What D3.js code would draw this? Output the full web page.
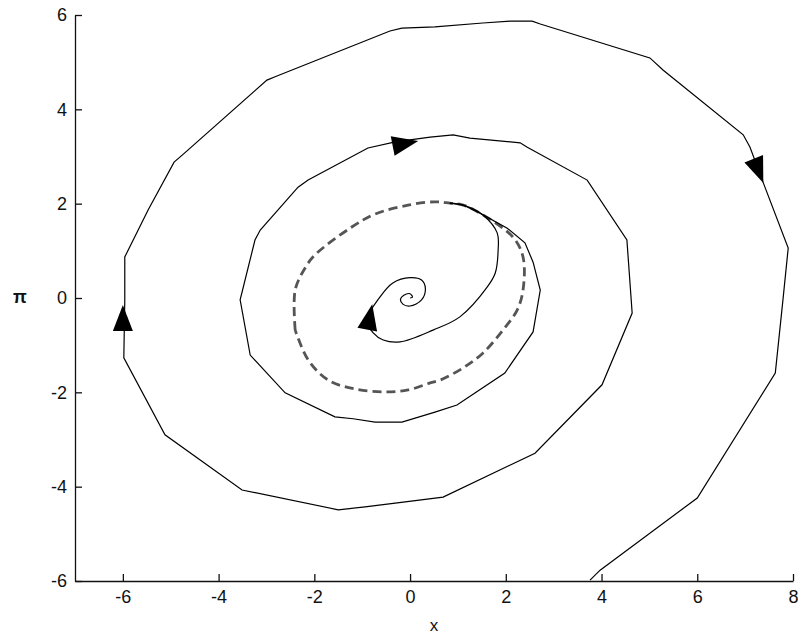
<!DOCTYPE html>
<meta charset="utf-8">
<script src="https://d3js.org/d3.v7.min.js"></script>
<style>
  body { margin: 0; background: #fff; }
</style>

<div id="my_dataviz"></div>

<script>

// trajectory leaving the cycle (x, pi)
var outwardPath = [
  [0.83, 2.01], [1.11, 1.97], [1.46, 1.80], [2.03, 1.48], [2.40, 1.17], [2.57, 0.76],
  [2.72, 0.17], [2.57, -0.72], [1.98, -1.59], [0.98, -2.27], [0.52, -2.42], [-0.17, -2.63],
  [-0.73, -2.63], [-1.19, -2.56], [-1.57, -2.52], [-2.61, -2.01], [-3.34, -1.21], [-3.55, -0.04],
  [-3.24, 1.23], [-3.13, 1.44], [-2.34, 2.35], [-2.13, 2.50], [-0.88, 3.18], [-0.31, 3.31],
  [0.42, 3.41], [0.90, 3.46], [1.25, 3.39], [2.30, 3.29], [2.44, 3.20], [3.70, 2.50],
  [4.53, 1.23], [4.64, -0.32], [4.01, -1.84], [2.61, -3.29], [0.69, -4.22], [-0.31, -4.35],
  [-0.94, -4.43], [-1.50, -4.49], [-3.51, -4.07], [-5.12, -2.90], [-5.98, -1.27], [-5.96, -0.04],
  [-5.96, 0.87], [-5.47, 1.87], [-4.93, 2.88], [-4.76, 3.03], [-2.99, 4.62], [-2.82, 4.69],
  [-0.42, 5.66], [-0.17, 5.72], [0.52, 5.75], [1.52, 5.83], [2.09, 5.87], [2.55, 5.87],
  [2.72, 5.81], [5.01, 5.09], [5.29, 4.83], [6.96, 3.46], [7.10, 3.20], [7.38, 2.44],
  [7.90, 1.06], [7.79, -0.04], [7.63, -1.59], [6.00, -4.24], [3.97, -5.77], [3.76, -5.98]
];

// trajectory falling into the origin
var inwardPath = [
  [0.83, 2.01], [1.11, 1.97], [1.52, 1.76], [1.82, 1.38], [1.84, 1.02], [1.78, 0.53],
  [1.61, 0.23], [1.04, -0.40], [0.48, -0.68], [-0.21, -0.93], [-0.56, -0.89], [-0.77, -0.74],
  [-0.90, -0.47], [-0.63, 0.02], [-0.36, 0.32], [0.00, 0.43], [0.24, 0.38], [0.32, 0.20],
  [0.24, -0.04], [0.00, -0.17], [-0.15, -0.13], [-0.20, -0.03], [-0.13, 0.06], [0.00, 0.09],
  [0.05, 0.02], [0.00, 0.00]
];

// unstable cycle (dashed)
var cyclePath = [
  [-2.40, -0.68], [-2.40, 0.17], [-2.19, 0.64], [-1.99, 0.91], [-1.21, 1.51], [-0.73, 1.78],
  [-0.04, 1.97], [0.52, 2.04], [0.83, 2.01], [1.11, 1.97], [1.46, 1.80], [2.15, 1.29],
  [2.36, 0.87], [2.36, 0.17], [2.24, -0.25], [1.94, -0.68], [1.52, -1.17], [1.11, -1.48],
  [0.63, -1.74], [0.42, -1.80], [-0.04, -1.95], [-0.52, -1.99], [-1.15, -1.93], [-1.71, -1.74],
  [-2.13, -1.31], [-2.40, -0.68]
];

// arrow heads: tip point and a point behind it on the curve
var arrowTips  = [[-6.00, -0.15], [0.17, 3.33], [7.38, 2.44], [-0.79, -0.13]];
var arrowBases = [[-6.00, -0.80], [-0.38, 3.22], [7.15, 3.03], [-0.90, -0.70]];

var xTicks = [-6, -4, -2, 0, 2, 4, 6, 8];
var yTicks = [-6, -4, -2, 0, 2, 4, 6];

//margin
var margin = {top: 15, right: 5, bottom: 55, left: 75},
    width = 798 - margin.left - margin.right,
    height = 636 - margin.top - margin.bottom;

var svg = d3.select("#my_dataviz")
  .append("svg")
    .attr("width", 798)
    .attr("height", 636)
    .style("display", "block")
  .append("g")
    .attr("transform", "translate(" + margin.left + "," + margin.top + ")");

var x = d3.scaleLinear().domain([-7, 8]).range([0, width]);
var y = d3.scaleLinear().domain([-6, 6]).range([height, 0]);

var font = "'Liberation Sans', Arial, sans-serif";
var plain = function(d) { return String(d); };   // keep the ascii minus

// axes, ticks pointing inward
var xAxis = svg.append("g")
  .attr("transform", "translate(0," + height + ")")
  .call(d3.axisBottom(x).tickValues(xTicks).tickFormat(plain)
    .tickSizeInner(-7).tickSizeOuter(0).tickPadding(9));
var yAxis = svg.append("g")
  .call(d3.axisLeft(y).tickValues(yTicks).tickFormat(plain)
    .tickSizeInner(-7).tickSizeOuter(0).tickPadding(8));

[xAxis, yAxis].forEach(function(a) {
  a.attr("font-family", font).attr("font-size", 18);
  a.selectAll("text").attr("fill", "#111");
  a.selectAll("line, path").attr("stroke", "#111").attr("stroke-width", 1.3);
});

// axis labels
svg.append("text")
  .attr("x", x(0.5))
  .attr("y", height + 50)
  .attr("text-anchor", "middle")
  .attr("font-family", font)
  .attr("font-size", 17)
  .attr("fill", "#111")
  .text("x");
svg.append("text")
  .attr("x", -55)
  .attr("y", y(0) + 5)
  .attr("text-anchor", "middle")
  .attr("font-family", font)
  .attr("font-size", 18)
  .attr("font-weight", "bold")
  .attr("fill", "#111")
  .text("π");

var line = d3.line()
  .x(function(d) { return x(d[0]); })
  .y(function(d) { return y(d[1]); });

var smooth = d3.line()
  .x(function(d) { return x(d[0]); })
  .y(function(d) { return y(d[1]); })
  .curve(d3.curveCatmullRom);

// dashed cycle
svg.append("path")
  .datum(cyclePath)
  .attr("fill", "none")
  .attr("stroke", "#555")
  .attr("stroke-width", 2.8)
  .attr("stroke-dasharray", "9,5")
  .attr("d", smooth);

// trajectories
svg.append("path")
  .datum(outwardPath)
  .attr("fill", "none")
  .attr("stroke", "#000")
  .attr("stroke-width", 1.2)
  .attr("d", line);

svg.append("path")
  .datum(inwardPath)
  .attr("fill", "none")
  .attr("stroke", "#000")
  .attr("stroke-width", 1.2)
  .attr("d", smooth);

// arrow heads
var headLen = 26, headHalf = 10;
svg.selectAll(".arrow")
  .data(arrowTips)
  .enter().append("path")
    .attr("class", "arrow")
    .attr("fill", "#000")
    .attr("d", function(d, i) {
      var tx = x(d[0]), ty = y(d[1]);
      var b = arrowBases[i];
      var dx = tx - x(b[0]), dy = ty - y(b[1]);
      var L = Math.sqrt(dx * dx + dy * dy);
      var ux = dx / L, uy = dy / L;
      var bx = tx - ux * headLen, by = ty - uy * headLen;
      return "M" + tx + "," + ty +
        "L" + (bx - uy * headHalf) + "," + (by + ux * headHalf) +
        "L" + (bx + uy * headHalf) + "," + (by - ux * headHalf) + "Z";
    });

</script>
